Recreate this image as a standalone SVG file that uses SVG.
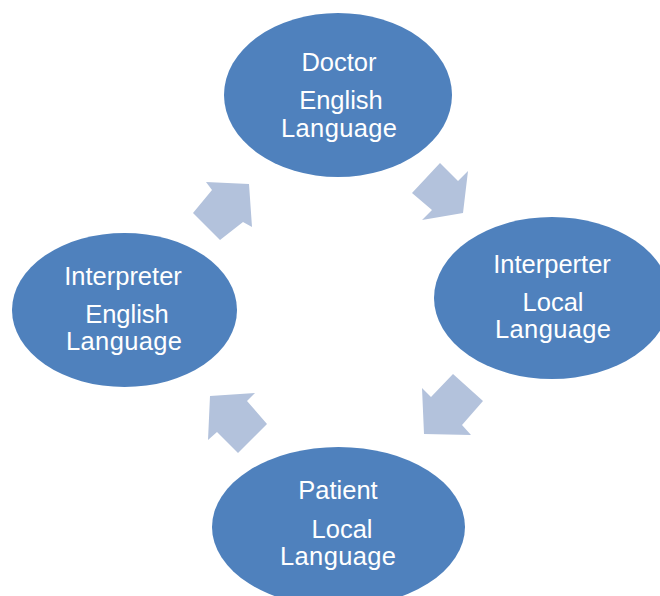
<svg xmlns="http://www.w3.org/2000/svg" width="660" height="596" viewBox="0 0 660 596">
<style>
.node{fill:#4F81BD;}
.arr{fill:#B3C2DC;}
text{font-family:"Liberation Sans",Arial,sans-serif;font-size:25.5px;fill:#FFFFFF;text-anchor:middle;}
</style>
<rect width="660" height="596" fill="#FFFFFF"/>
<g id="connectors">
<polygon class="arr" points="440,163 458,181 468,171 463,213 422,220 432,210 412,193"/>
<polygon class="arr" points="453,374 483,401 462,425 471,435 424,434 422,388 431,397"/>
<polygon class="arr" points="210,396 255,393 247,401 267,424 238,453 217,432 208,440"/>
<polygon class="arr" points="249,184 206,182 212,190 193,213 220,240 243,222 252,227"/>
</g>
<g id="doctor">
<ellipse class="node" cx="338" cy="95" rx="114" ry="82"/>
<text x="339" y="71">Doctor</text>
<text x="341" y="109">English</text>
<text x="339" y="137" textLength="116" lengthAdjust="spacing">Language</text>
</g>
<g id="interpreter-local">
<ellipse class="node" cx="552" cy="298" rx="118" ry="81"/>
<text x="552" y="273">Interperter</text>
<text x="553" y="311">Local</text>
<text x="553" y="338" textLength="116" lengthAdjust="spacing">Language</text>
</g>
<g id="patient">
<ellipse class="node" cx="338.5" cy="527" rx="126.5" ry="80"/>
<text x="338" y="499">Patient</text>
<text x="342" y="538">Local</text>
<text x="338" y="565" textLength="116" lengthAdjust="spacing">Language</text>
</g>
<g id="interpreter-english">
<ellipse class="node" cx="124.5" cy="310" rx="112.5" ry="77"/>
<text x="123" y="285">Interpreter</text>
<text x="127" y="323">English</text>
<text x="124" y="350" textLength="116" lengthAdjust="spacing">Language</text>
</g>
</svg>
